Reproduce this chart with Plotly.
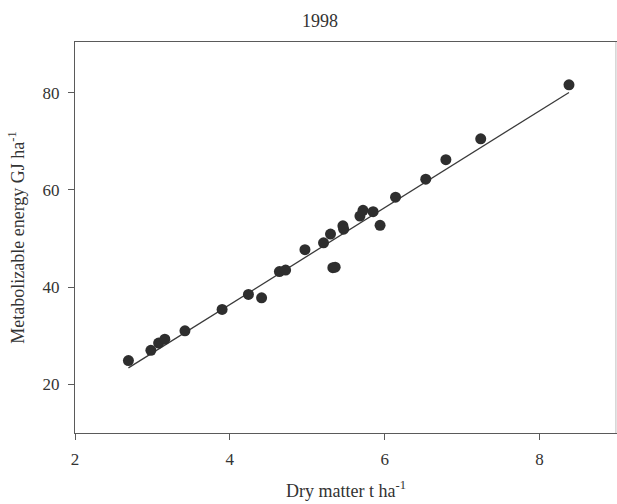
import numpy as np
import plotly.graph_objects as go

# Dry matter yield (t/ha) and metabolizable energy (GJ/ha), 1998
dry_matter = [2.69, 2.98, 3.08, 3.16, 3.42, 3.90, 4.24, 4.41, 4.64, 4.72,
              4.97, 5.21, 5.30, 5.33, 5.36, 5.46, 5.47, 5.68, 5.72, 5.85,
              5.94, 6.14, 6.53, 6.79, 7.24, 8.38]
metab_energy = [24.9, 27.0, 28.5, 29.3, 31.0, 35.4, 38.5, 37.8, 43.2, 43.5,
                47.7, 49.1, 50.9, 44.0, 44.1, 52.6, 51.9, 54.6, 55.8, 55.5,
                52.7, 58.5, 62.2, 66.2, 70.5, 81.6]

# Linear regression line: ME = slope * DM + intercept
fit_slope = 9.954
fit_intercept = -3.39

x_ticks = [2, 4, 6, 8]
y_ticks = [20, 40, 60, 80]

fit_x = np.array([min(dry_matter), max(dry_matter)])
fit_y = fit_slope * fit_x + fit_intercept

font_family = "Liberation Serif, Times New Roman, serif"
ink = "#333333"

fig = go.Figure()
fig.add_trace(go.Scatter(
    x=fit_x, y=fit_y, mode="lines",
    line=dict(color="#3a3a3a", width=1.3),
    showlegend=False, hoverinfo="skip",
))
fig.add_trace(go.Scatter(
    x=dry_matter, y=metab_energy, mode="markers",
    marker=dict(size=11, color="#2e2e2e", line=dict(width=0)),
    showlegend=False,
))

axis_common = dict(
    showgrid=False, zeroline=False,
    showline=True, linecolor="#5a5a5a", linewidth=1.3,
    ticks="outside", ticklen=6, tickwidth=1.2, tickcolor="#5a5a5a",
    tickfont=dict(family=font_family, size=17, color=ink),
)

fig.update_layout(
    width=617, height=504,
    margin=dict(l=75, r=0, t=42, b=71),
    paper_bgcolor="white", plot_bgcolor="white",
    title=dict(
        text="1998", x=320 / 617, xref="container", xanchor="center",
        y=1 - 21 / 504, yref="container", yanchor="middle",
        font=dict(family=font_family, size=18, color=ink),
    ),
    xaxis=dict(
        range=[2, 9], tickvals=x_ticks, mirror=True, ticklabelstandoff=4,
        title=dict(text="Dry matter t ha<sup>-1</sup>", standoff=16,
                   font=dict(family=font_family, size=18, color=ink)),
        **axis_common,
    ),
    yaxis=dict(
        range=[10, 90.4], tickvals=y_ticks, ticklabelstandoff=5,
        title=dict(text="Metabolizable energy GJ ha<sup>-1</sup>", standoff=13,
                   font=dict(family=font_family, size=18, color=ink)),
        **axis_common,
    ),
    shapes=[dict(type="line", xref="paper", yref="paper", x0=0.998, x1=0.998,
                 y0=0, y1=1, line=dict(color="#bdbdbd", width=1))],
)

fig.write_html("out.html")
